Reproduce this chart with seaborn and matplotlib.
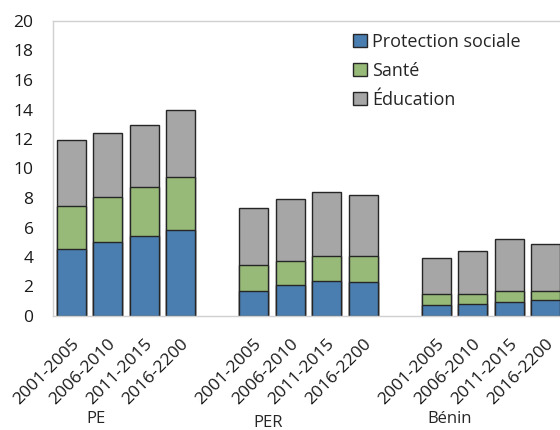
import matplotlib
matplotlib.use("Agg")
import matplotlib.pyplot as plt
import pandas as pd
import seaborn as sns
from matplotlib.patches import Patch

# Data
groups = ["PE", "PER", "Bénin"]
periods = ["2001-2005", "2006-2010", "2011-2015", "2016-2200"]
protection = [4.56, 4.99, 5.42, 5.82,
              1.71, 2.10, 2.37, 2.32,
              0.74, 0.79, 0.95, 1.08]
sante = [2.91, 3.11, 3.31, 3.61,
         1.74, 1.62, 1.67, 1.72,
         0.73, 0.68, 0.72, 0.63]
education = [4.43, 4.30, 4.20, 4.56,
             3.84, 4.18, 4.38, 4.15,
             2.43, 2.91, 3.52, 3.14]

colors = {"Protection sociale": "#4a7eb0", "Santé": "#97ba78", "Éducation": "#a6a6a6"}

sns.set_theme(style="white")
plt.rcParams["font.family"] = ["Open Sans", "DejaVu Sans"]

rows = []
for gi, g in enumerate(groups):
    for pi, p in enumerate(periods):
        i = gi * 4 + pi
        rows.append({"key": f"{g}|{p}", "period": p,
                     "blue": protection[i],
                     "green": protection[i] + sante[i],
                     "gray": protection[i] + sante[i] + education[i]})
df = pd.DataFrame(rows)

# category order with an empty slot between groups
order = []
for gi, g in enumerate(groups):
    order += [f"{g}|{p}" for p in periods]
    if gi < len(groups) - 1:
        order.append(" " * (gi + 1))

fig = plt.figure(figsize=(5.6, 4.3), dpi=100)
ax = fig.add_axes([53 / 560, 114 / 430, 511 / 560, 295 / 430])

for col, name in [("gray", "Éducation"), ("green", "Santé"), ("blue", "Protection sociale")]:
    sns.barplot(data=df, x="key", y=col, order=order, color=colors[name],
                saturation=1, width=0.8, edgecolor="#262626", linewidth=1.0, ax=ax)

ax.set_ylim(0, 20)
ax.set_xlim(-0.5, len(order) - 0.5)
ax.set_yticks(range(0, 21, 2))
ax.tick_params(axis="y", labelsize=12.5, length=0, pad=14, colors="#1a1a1a")
ticks = [i for i, k in enumerate(order) if k.strip()]
ax.set_xticks(ticks)
ax.set_xticklabels([k.split("|")[1] for k in order if k.strip()],
                   rotation=45, ha="right", rotation_mode="anchor", fontsize=12.5, color="#1a1a1a")
ax.tick_params(axis="x", length=0, pad=14)
ax.set_xlabel("")
ax.set_ylabel("")
for s in ax.spines.values():
    s.set_color("#d0d0d0")
    s.set_linewidth(1.0)

handles = [Patch(facecolor=colors[n], edgecolor="#262626", label=n)
           for n in ["Protection sociale", "Santé", "Éducation"]]
ax.legend(handles=handles, loc="upper left", bbox_to_anchor=(0.573, 0.985), frameon=False,
          fontsize=13, handlelength=0.75, handleheight=0.75, handletextpad=0.3,
          labelspacing=0.62, borderaxespad=0)

fig.text(96 / 560, 1 - 419 / 430, "PE", ha="center", va="center", fontsize=12)
fig.text(268 / 560, 1 - 423 / 430, "PER", ha="center", va="center", fontsize=12)
fig.text(450 / 560, 1 - 419 / 430, "Bénin", ha="center", va="center", fontsize=12)

fig.savefig("out.png", dpi=100)
